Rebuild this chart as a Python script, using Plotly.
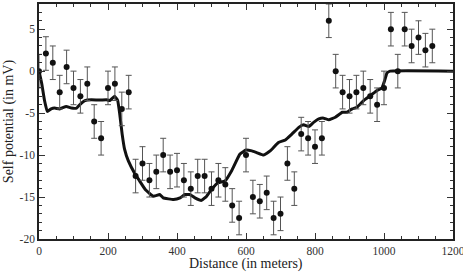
import plotly.graph_objects as go

# Measured self potential data (distance in m, SP in mV, error in mV)
dist = [0, 20, 40, 60, 80, 100, 120, 140, 160, 180, 200, 220, 240, 260, 280, 300,
        320, 340, 360, 380, 400, 420, 440, 460, 480, 500, 520, 540, 560, 580, 600,
        620, 640, 660, 680, 700, 720, 740, 760, 780, 800, 820, 840, 860, 880, 900,
        920, 940, 960, 980, 1000, 1020, 1040, 1060, 1080, 1100, 1120, 1140]
sp = [0.0, 2.1, 1.0, -2.5, 0.5, -2.0, -3.0, -1.5, -6.0, -8.0, -2.0, -1.5, -4.5, -2.5,
      -12.5, -11.0, -13.0, -12.0, -10.0, -12.0, -11.8, -13.0, -14.0, -12.5, -12.5,
      -14.0, -13.0, -13.5, -16.0, -17.5, -10.0, -15.0, -15.5, -14.5, -17.5, -17.0,
      -11.0, -14.0, -7.5, -8.0, -9.0, -8.0, 6.0, 0.0, -2.5, -3.0, -2.5, -2.0, -3.0,
      -4.0, -2.0, 5.0, 0.0, 5.0, 3.0, 4.0, 2.5, 3.0]
sp_err = [2.0] * len(sp)

# Model curve
model_x = [0, 8, 16, 24, 35, 45, 60, 79, 94, 109, 123, 133, 152, 176, 195, 205, 219,
           228, 234, 241, 248, 259, 279, 292, 308, 331, 350, 360, 390, 409, 423, 437,
           452, 471, 486, 500, 519, 539, 558, 582, 600, 617, 631, 651, 670, 694, 714,
           733, 753, 767, 782, 796, 811, 825, 840, 859, 879, 893, 900, 908, 922, 941,
           961, 980, 994, 1002, 1009, 1018, 1200]
model_y = [0.0, -1.5, -3.5, -4.8, -4.5, -4.4, -4.5, -4.2, -4.4, -4.4, -3.8, -3.5,
           -3.4, -3.45, -3.4, -3.5, -3.0, -3.5, -5.1, -7.5, -9.3, -10.7, -12.3, -13.1,
           -14.1, -14.9, -14.7, -15.1, -15.3, -15.1, -14.7, -14.7, -15.1, -15.4, -14.9,
           -14.1, -13.3, -13.1, -11.9, -9.9, -9.4, -9.5, -9.7, -10.0, -9.5, -8.5, -8.2,
           -7.5, -6.7, -6.4, -6.6, -6.1, -5.7, -5.6, -5.8, -5.5, -4.9, -4.9, -4.7,
           -4.5, -4.3, -3.5, -2.9, -2.3, -2.0, -1.1, -0.2, 0.0, 0.0]

x_ticks = [0, 200, 400, 600, 800, 1000, 1200]
y_ticks = [-20, -15, -10, -5, 0, 5]
y_tick_text = ["-20", "-15", "-10", "-5", "0", "5"]
x_title = "Distance (in meters)"
y_title = "Self potential (in mV)"

font_family = "Liberation Serif, Times New Roman, serif"

fig = go.Figure()
fig.add_trace(go.Scatter(
    x=model_x, y=model_y, mode="lines",
    line=dict(color="#111111", width=3, shape="spline", smoothing=0.3),
    showlegend=False, hoverinfo="skip"))
fig.add_trace(go.Scatter(
    x=dist, y=sp, mode="markers",
    marker=dict(color="#111111", size=6),
    error_y=dict(type="data", array=sp_err, visible=True, color="#555555",
                 thickness=1, width=3),
    showlegend=False))

axis_common = dict(
    showgrid=False, zeroline=False, showline=True, linecolor="#222222", linewidth=1.5,
    mirror="ticks", ticks="inside", ticklen=6, tickwidth=1, tickcolor="#333333",
    tickfont=dict(family=font_family, size=11.5, color="#333333"),
    ticklabeloverflow="allow", automargin=False,
)

fig.update_layout(
    width=463, height=272,
    margin=dict(l=39, r=10, t=4, b=33),
    paper_bgcolor="white", plot_bgcolor="white",
    font=dict(family=font_family, color="#333333"),
    xaxis=dict(range=[0, 1200], tickvals=x_ticks,
               minor=dict(ticks="inside", dtick=50, ticklen=3, tickcolor="#333333"),
               **axis_common),
    yaxis=dict(range=[-20, 8], tickvals=y_ticks, ticktext=y_tick_text,
               minor=dict(ticks="inside", dtick=1, ticklen=3, tickcolor="#333333"),
               title=dict(text=y_title,
                          font=dict(size=14, family=font_family, color="#222222"),
                          standoff=3),
               **axis_common),
    annotations=[dict(text=x_title, xref="paper", yref="paper", x=0.5, y=-0.108,
                      xanchor="center", yanchor="middle", showarrow=False, borderpad=0,
                      font=dict(size=14, family=font_family, color="#222222"))],
)

fig.write_html("out.html")
